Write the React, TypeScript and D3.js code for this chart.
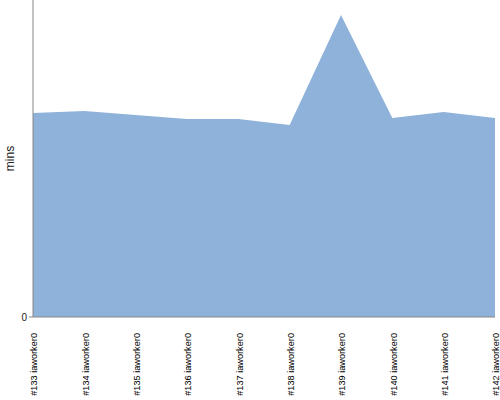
import React from "react";
import * as d3 from "d3";

const categories = ["#133 iaworker0", "#134 iaworker0", "#135 iaworker0", "#136 iaworker0", "#137 iaworker0", "#138 iaworker0", "#139 iaworker0", "#140 iaworker0", "#141 iaworker0", "#142 iaworker0"];
const values = [12.87, 13.0, 12.74, 12.49, 12.49, 12.11, 19.05, 12.56, 12.93, 12.56];
const yTicks = [0];
const yMax = 20;

export default function App() {
  const W = 500, H = 400;
  const m = { left: 33, right: 5, top: 0, bottom: 83 };
  const x = d3.scalePoint<string>().domain(categories).range([m.left, W - m.right]);
  const y = d3.scaleLinear().domain([0, yMax]).range([H - m.bottom, m.top]);
  const area = d3.area<number>()
    .x((_, i) => x(categories[i]) as number)
    .y0(y(0))
    .y1((d) => y(d));
  return (
    <svg width={W} height={H} style={{ position: "absolute", left: 0, top: 0, fontFamily: "Liberation Sans, Arial, sans-serif" }}>
      <path d={area(values) || ""} fill="#8fb2db" />
      <line x1={m.left} x2={m.left} y1={m.top} y2={y(0)} stroke="#888" />
      <line x1={m.left} x2={W - m.right} y1={y(0)} y2={y(0)} stroke="#888" />
      {yTicks.map((t) => (
        <g key={t}>
          <line x1={m.left - 4} x2={m.left} y1={y(t)} y2={y(t)} stroke="#888" />
          <text x={m.left - 6} y={y(t)} dy="0.35em" textAnchor="end" fontSize={10} fill="#222">{t}</text>
        </g>
      ))}
      {categories.map((c) => (
        <text key={c} transform={`translate(${(x(c) as number) + 1},${y(0) + 16}) rotate(-90)`} dy="0.35em" textAnchor="end" fontSize={9.2} fill="#000">{c}</text>
      ))}
      <text transform={`translate(14,${(m.top + y(0)) / 2}) rotate(-90)`} textAnchor="middle" fontSize={12} fill="#222">mins</text>
    </svg>
  );
}
